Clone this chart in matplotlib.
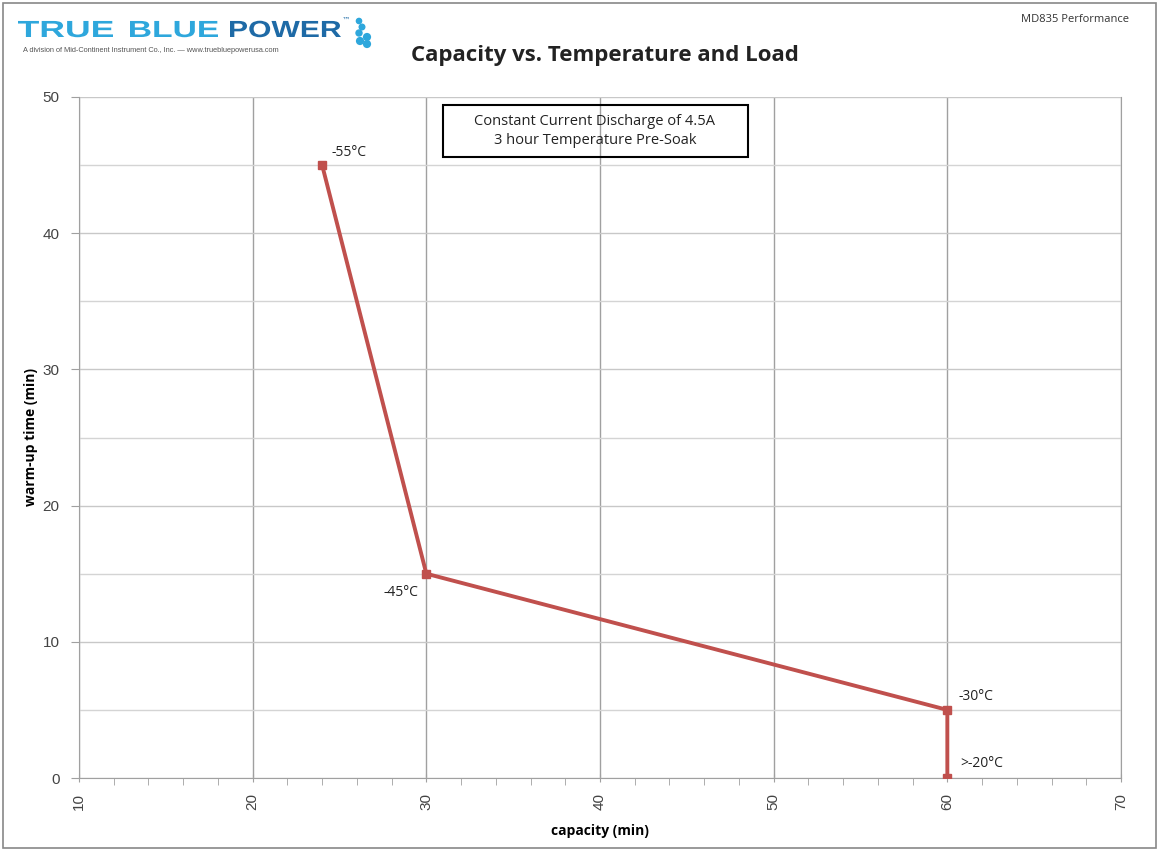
import matplotlib.pyplot as plt
from matplotlib.ticker import MultipleLocator
from matplotlib.patches import Rectangle, Ellipse, PathPatch
from matplotlib.textpath import TextPath
from matplotlib.font_manager import FontProperties
from matplotlib.transforms import Affine2D

capacity = [24, 30, 60, 60]
warmup = [45, 15, 5, 0]
temps = ['-55°C', '-45°C', '-30°C', '>-20°C']
# label offsets in points (dx, dy, ha, va)
offs = [(7, 4, 'left', 'bottom'), (-6, -8, 'right', 'top'),
        (8, 4, 'left', 'bottom'), (9, 5, 'left', 'bottom')]

W, H = 1159, 851
fig = plt.figure(figsize=(W / 100, H / 100), dpi=100)
ax = fig.add_axes([79 / W, 1 - 778 / H, (1121 - 79) / W, (778 - 97) / H])

red = '#c0504d'
ax.plot(capacity, warmup, color=red, lw=2.8, marker='s', ms=5.5, zorder=3)
for x, y, t, (dx, dy, ha, va) in zip(capacity, warmup, temps, offs):
    ax.annotate(t, (x, y), xytext=(dx, dy), textcoords='offset points',
                ha=ha, va=va, fontsize=10, family='Open Sans', color='#222222')

ax.set_xlim(10, 70)
ax.set_ylim(0, 50)
ax.xaxis.set_major_locator(MultipleLocator(10))
ax.xaxis.set_minor_locator(MultipleLocator(2))
ax.yaxis.set_major_locator(MultipleLocator(10))
ax.yaxis.set_minor_locator(MultipleLocator(5))
ax.grid(axis='x', which='major', color='#a0a0a0', lw=1)
ax.grid(axis='y', which='major', color='#c8c8c8', lw=1)
ax.grid(axis='y', which='minor', color='#d4d4d4', lw=1)
ax.set_axisbelow(True)
ax.spines['top'].set_visible(False)
for s in ['left', 'bottom', 'right']:
    ax.spines[s].set_color('#a0a0a0')
ax.tick_params(axis='x', which='major', length=6, direction='inout', color='#a0a0a0',
               labelrotation=90, labelsize=11, pad=8)
ax.tick_params(axis='x', which='minor', length=5, direction='out', color='#a0a0a0')
ax.tick_params(axis='y', which='major', length=6, direction='out', color='#a0a0a0',
               labelsize=11, pad=8)
ax.tick_params(axis='y', which='minor', length=0)
for lab in ax.get_xticklabels() + ax.get_yticklabels():
    lab.set_family('Liberation Sans')
    lab.set_color('#444444')

ax.set_xlabel('capacity (min)', fontsize=10, fontweight='bold', family='Open Sans', labelpad=10)
ax.set_ylabel('warm-up time (min)', fontsize=10, fontweight='bold', family='Open Sans', labelpad=3)

fig.text(605 / W, 1 - 55 / H, 'Capacity vs. Temperature and Load', ha='center', va='center',
         fontsize=16, fontweight='bold', family='Open Sans', color='#222222')
fig.text(1129 / W, 1 - 20 / H, 'MD835 Performance', ha='right', va='center',
         fontsize=8, family='Open Sans', color='#333333')

fig.text(595 / W, 1 - 131 / H, 'Constant Current Discharge of 4.5A\n3 hour Temperature Pre-Soak',
         ha='center', va='center', fontsize=10.5, family='Open Sans', color='#222222',
         linespacing=1.35)
fig.patches.append(Rectangle((443 / W, 1 - 157 / H), (748 - 443) / W, 52 / H,
                             transform=fig.transFigure, fill=False, ec='black', lw=1.5))

# logo: wide lettering, stretched text paths in pixel coords
light, dark = '#2ea7dc', '#1e6aa6'
fp = FontProperties(family='Liberation Sans', weight='bold')
for word, x0, x1, c in [('TRUE', 18, 113, light), ('BLUE', 130, 218, light),
                        ('POWER', 230, 341, dark)]:
    tp = TextPath((0, 0), word, size=1, prop=fp)
    ext = tp.get_extents()
    sx = (x1 - x0) / ext.width
    sy = 17 / 0.729
    tr = Affine2D().translate(-ext.x0, 0).scale(sx, sy).translate(x0, H - 37)
    fig.patches.append(PathPatch(tp, transform=tr, fc=c, ec='none'))
fig.text(342 / W, 1 - 20 / H, '™', ha='left', va='center', fontsize=6, color=dark)
for cx, cy, r in [(359, 21, 2.6), (362, 27, 2.8), (359, 33, 3.0), (367, 37, 3.4),
                  (360, 41, 3.4), (367, 44, 3.4)]:
    fig.patches.append(Ellipse((cx / W, 1 - cy / H), 2 * r / W, 2 * r / H,
                               transform=fig.transFigure, color=light))
fig.text(23 / W, 1 - 50 / H, 'A division of Mid-Continent Instrument Co., Inc. — www.truebluepowerusa.com',
         ha='left', va='center', fontsize=5.3, family='Liberation Sans', color='#555555')

fig.patches.append(Rectangle((3 / W, 3 / H), 1153 / W, 845 / H, transform=fig.transFigure,
                             fill=False, ec='#888888', lw=1.2))

fig.savefig('out.png', dpi=100)
